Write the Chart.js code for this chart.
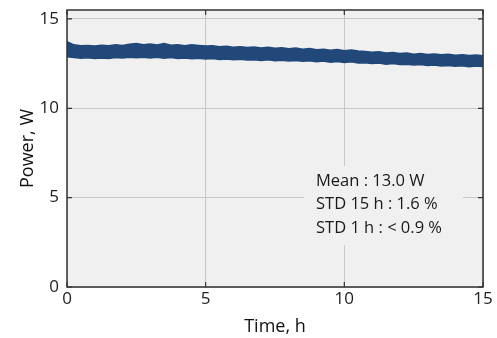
<!DOCTYPE html>
<html>
<head>
<meta charset="utf-8">
<script src="https://cdn.jsdelivr.net/npm/chart.js@4"></script>
<style>
  html, body { margin: 0; padding: 0; background: #fff; }
  #wrap { width: 497px; height: 338px; }
</style>
</head>
<body>
<div id="wrap"><canvas id="chartArea" width="497" height="338"></canvas></div>
<script>
'use strict'

// time axis, hours (every 15 min)
const hours = [0,0.25,0.5,0.75,1,1.25,1.5,1.75,2,2.25,2.5,2.75,3,3.25,3.5,3.75,4,4.25,4.5,4.75,
  5,5.25,5.5,5.75,6,6.25,6.5,6.75,7,7.25,7.5,7.75,8,8.25,8.5,8.75,9,9.25,9.5,9.75,
  10,10.25,10.5,10.75,11,11.25,11.5,11.75,12,12.25,12.5,12.75,13,13.25,13.5,13.75,14,14.25,14.5,14.75,15];

// upper / lower envelope of the noisy power trace, W
const powerHigh = [13.72,13.55,13.50,13.52,13.49,13.53,13.50,13.55,13.52,13.58,13.62,13.55,13.60,13.54,13.62,13.53,13.56,13.50,13.55,13.52,
  13.48,13.50,13.44,13.47,13.42,13.45,13.40,13.43,13.38,13.41,13.36,13.39,13.33,13.37,13.30,13.34,13.28,13.31,13.25,13.29,
  13.22,13.26,13.20,13.18,13.14,13.17,13.10,13.12,13.06,13.09,13.03,13.07,13.01,13.04,12.99,13.02,12.97,13.00,12.95,12.98,12.94];
const powerLow = [12.88,12.84,12.80,12.83,12.79,12.82,12.78,12.84,12.81,12.85,12.83,12.86,12.82,12.85,12.80,12.84,12.79,12.82,12.77,12.80,
  12.76,12.78,12.73,12.76,12.71,12.74,12.70,12.72,12.68,12.71,12.66,12.69,12.64,12.68,12.63,12.66,12.61,12.64,12.58,12.62,
  12.56,12.60,12.54,12.55,12.50,12.53,12.47,12.50,12.45,12.47,12.42,12.45,12.39,12.42,12.37,12.40,12.35,12.38,12.33,12.36,12.34];

const xTicks = [0, 5, 10, 15];
const yTicks = [0, 5, 10, 15];
const statLines = ['Mean : 13.0 W', 'STD 15 h : 1.6 %', 'STD 1 h : < 0.9 %'];

const FONT = '"Open Sans", "Noto Sans", sans-serif';
const BAND = '#22487a';

let toPoints = function(vals) {
    let pts = [];
    for (let i = 0; i < hours.length; i++) {
        pts.push({x: hours[i], y: vals[i]});
    }
    return pts;
};

// plot background, stats box, frame and inward ticks
const framePlugin = {
    id: 'frame',
    beforeDraw(chart) {
        let a = chart.chartArea;
        let ctx = chart.ctx;
        ctx.save();
        ctx.fillStyle = '#f0f0f0';
        ctx.fillRect(a.left, a.top, a.right - a.left, a.bottom - a.top);
        ctx.restore();
    },
    afterDatasetsDraw(chart) {
        let a = chart.chartArea;
        let ctx = chart.ctx;
        let xs = chart.scales.x;
        let ys = chart.scales.y;
        ctx.save();

        // stats box
        ctx.fillStyle = '#f0f0f0';
        ctx.fillRect(304, 166, 159, 79);
        ctx.fillStyle = '#1a1a1a';
        ctx.font = '16.5px ' + FONT;
        ctx.textBaseline = 'middle';
        ctx.textAlign = 'left';
        for (let i = 0; i < statLines.length; i++) {
            ctx.fillText(statLines[i], 316, 181 + i * 23.5);
        }

        // frame
        ctx.strokeStyle = '#333333';
        ctx.lineWidth = 1.5;
        ctx.strokeRect(a.left, a.top, a.right - a.left, a.bottom - a.top);

        // ticks pointing inward
        ctx.lineWidth = 1.2;
        ctx.beginPath();
        for (let v of xTicks) {
            let px = xs.getPixelForValue(v);
            ctx.moveTo(px, a.bottom); ctx.lineTo(px, a.bottom - 5);
            ctx.moveTo(px, a.top); ctx.lineTo(px, a.top + 5);
        }
        for (let v of yTicks) {
            let py = ys.getPixelForValue(v);
            ctx.moveTo(a.left, py); ctx.lineTo(a.left + 5, py);
            ctx.moveTo(a.right, py); ctx.lineTo(a.right - 5, py);
        }
        ctx.stroke();
        ctx.restore();
    }
};

let ctx = document.getElementById('chartArea').getContext('2d');
let chart = new Chart(ctx, {
    type: 'line',
    data: {
        datasets: [{
            data: toPoints(powerHigh),
            borderColor: BAND,
            borderWidth: 1.5,
            pointRadius: 0,
            fill: false
        }, {
            data: toPoints(powerLow),
            borderColor: BAND,
            borderWidth: 1.5,
            pointRadius: 0,
            backgroundColor: BAND,
            fill: '-1'
        }]
    },
    options: {
        responsive: false,
        animation: false,
        layout: { padding: { top: 0, right: 14, left: 0, bottom: 0 } },
        plugins: {
            legend: { display: false },
            tooltip: { enabled: false }
        },
        scales: {
            x: {
                type: 'linear',
                min: 0,
                max: 15,
                afterFit: function(s) { s.height = 51; },
                afterBuildTicks: function(s) { s.ticks = xTicks.map(v => ({value: v})); },
                ticks: { color: '#222', font: { family: FONT, size: 17 }, padding: 2 },
                grid: { color: '#c8c8c8', lineWidth: 1, drawTicks: false },
                border: { display: false },
                title: { display: true, text: 'Time, h', color: '#111',
                         font: { family: FONT, size: 18 }, padding: { top: 3, bottom: 0 } }
            },
            y: {
                min: 0,
                max: 15.5,
                afterFit: function(s) { s.width = 67; s.paddingTop = 10; s.paddingBottom = 0; },
                afterBuildTicks: function(s) { s.ticks = yTicks.map(v => ({value: v})); },
                ticks: { color: '#222', font: { family: FONT, size: 17 }, padding: 8 },
                grid: { color: '#c8c8c8', lineWidth: 1, drawTicks: false },
                border: { display: false },
                title: { display: true, text: 'Power, W', color: '#111',
                         font: { family: FONT, size: 18 }, padding: { top: 17, bottom: 0 } }
            }
        }
    },
    plugins: [framePlugin]
});
</script>
</body>
</html>
